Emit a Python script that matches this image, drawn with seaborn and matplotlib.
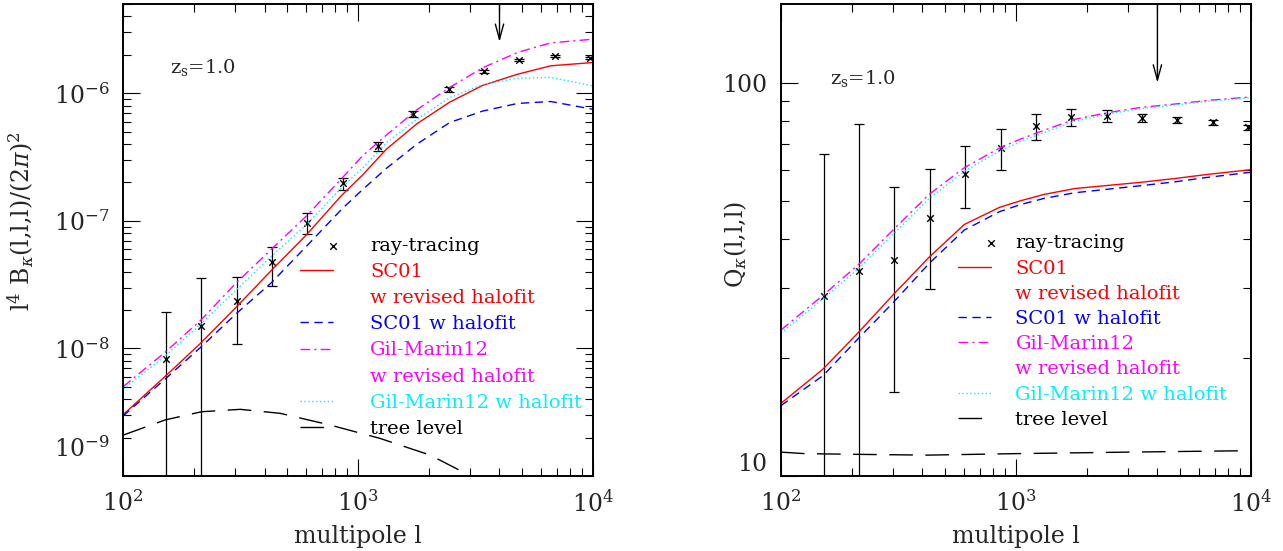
import numpy as np
import pandas as pd
import seaborn as sns
import matplotlib
matplotlib.use('Agg')
import matplotlib.pyplot as plt
from matplotlib.lines import Line2D
from matplotlib.legend_handler import HandlerPathCollection
from matplotlib.ticker import LogLocator, NullFormatter, FixedLocator, FixedFormatter
from matplotlib.transforms import ScaledTranslation

# ---- data ----
# ray-tracing measurements (both panels share multipoles)
ell_pts = [152, 215, 304, 430, 608, 860, 1216, 1720, 2432, 3439, 4864, 6879, 9728]

B_pts = [8.2e-9, 1.49e-8, 2.37e-8, 4.76e-8, 9.63e-8, 1.97e-7, 3.84e-7, 6.84e-7,
         1.07e-6, 1.49e-6, 1.83e-6, 1.95e-6, 1.88e-6]
B_hi = [1.92e-8, 3.54e-8, 3.63e-8, 6.28e-8, 1.16e-7, 2.18e-7, 4.15e-7, 7.2e-7,
        1.11e-6, 1.53e-6, 1.87e-6, 1.99e-6, 1.92e-6]
B_lo = [1e-10, 1e-10, 1.09e-8, 3.1e-8, 7.9e-8, 1.73e-7, 3.55e-7, 6.5e-7,
        1.03e-6, 1.45e-6, 1.79e-6, 1.91e-6, 1.84e-6]

Q_pts = [28.7, 33.3, 35.4, 45.3, 58.6, 68.2, 77.4, 81.8, 82.1, 81.3, 80.5, 79.3, 77.0]
Q_hi = [65.9, 78.7, 54.3, 60.5, 69.2, 76.4, 83.4, 85.9, 85.0, 83.3, 82.0, 80.5, 78.2]
Q_lo = [5.0, 5.0, 16.4, 29.9, 48.0, 60.1, 71.6, 77.8, 79.3, 79.3, 79.0, 78.1, 75.8]

# model curves
ell_curve = [100, 151, 214, 302, 427, 603, 851, 1047, 1318, 1778, 2455, 3388, 4786, 6607, 10000]

B_sc01_rev = [3.02e-9, 6.03e-9, 1.10e-8, 2.09e-8, 4.07e-8, 7.76e-8, 1.58e-7, 2.29e-7,
              3.63e-7, 5.75e-7, 8.51e-7, 1.15e-6, 1.41e-6, 1.64e-6, 1.74e-6]
B_sc01 = [2.95e-9, 5.75e-9, 1.02e-8, 1.86e-8, 3.26e-8, 6.31e-8, 1.23e-7, 1.76e-7,
          2.57e-7, 3.98e-7, 5.89e-7, 7.24e-7, 8.32e-7, 8.61e-7, 7.48e-7]
B_gm12_rev = [5.01e-9, 9.33e-9, 1.66e-8, 3.24e-8, 5.96e-8, 1.09e-7, 2.14e-7, 3.24e-7,
              4.68e-7, 7.41e-7, 1.11e-6, 1.58e-6, 2.09e-6, 2.48e-6, 2.65e-6]
B_gm12 = [4.79e-9, 8.71e-9, 1.55e-8, 2.85e-8, 5.25e-8, 9.33e-8, 1.82e-7, 2.60e-7,
          4.07e-7, 6.24e-7, 9.23e-7, 1.17e-6, 1.31e-6, 1.33e-6, 1.14e-6]
ell_tree_B = [100, 151, 216, 315, 466, 760, 1242, 2023, 2897, 3548, 4500]
B_tree = [2.09e-9, 2.75e-9, 3.19e-9, 3.33e-9, 3.10e-9, 2.51e-9, 1.97e-9, 1.46e-9,
          1.04e-9, 8.3e-10, 6.2e-10]

Q_sc01_rev = [15.3, 18.7, 23.2, 29.0, 36.0, 43.6, 48.2, 50.1, 52.0, 53.8, 54.8, 55.8, 57.1, 58.5, 60.1]
Q_sc01 = [15.1, 18.0, 22.4, 27.7, 34.7, 42.2, 47.0, 49.0, 50.8, 52.5, 53.6, 54.7, 56.0, 57.5, 59.2]
Q_gm12_rev = [23.5, 28.8, 34.5, 42.4, 52.0, 60.8, 68.2, 71.9, 75.7, 80.7, 83.9, 86.5, 88.3, 90.2, 92.0]
Q_gm12 = [23.1, 28.2, 33.7, 41.3, 50.7, 59.5, 67.0, 70.8, 74.7, 79.8, 83.2, 85.9, 87.8, 89.7, 91.6]
ell_tree_Q = [100, 126, 217, 417, 1007, 2951, 10000]
Q_tree = [11.5, 11.4, 11.35, 11.3, 11.4, 11.5, 11.6]

arrow_ell = 4000

labels = ['ray-tracing', 'SC01', 'SC01 w halofit', 'Gil-Marin12',
          'Gil-Marin12 w halofit', 'tree level']
second_line = 'w revised halofit'
colors = ['black', '#ff0000', '#0000ff', '#ff00ff', '#00f0ff', 'black']
styles = ['-', (0, (6, 4)), (0, (7, 3, 1.5, 3)), (0, (1, 1.8)), (0, (17, 9))]

sns.set_style('ticks')
plt.rcParams['font.family'] = ['DejaVu Serif']
plt.rcParams['mathtext.fontset'] = 'dejavuserif'


class RightMarker(HandlerPathCollection):
    # put the single legend marker at the right end of the handle
    def get_xdata(self, legend, xdescent, ydescent, width, height, fontsize):
        return [-xdescent + width], [-xdescent + width]


def style_axes(ax):
    ax.set_xscale('log')
    ax.set_yscale('log')
    ax.tick_params(which='both', direction='in', top=True, right=True,
                   width=0.8, labelsize=17, color='black')
    ax.tick_params(which='major', length=12, pad=10)
    ax.tick_params(which='minor', length=6)
    for s in ax.spines.values():
        s.set_linewidth(1.4)
        s.set_color('black')
    ax.set_xlim(100, 10000)
    ax.xaxis.set_major_locator(FixedLocator([100, 1000, 10000]))
    ax.xaxis.set_minor_locator(LogLocator(base=10, subs=np.arange(2, 10)))
    ax.xaxis.set_minor_formatter(NullFormatter())
    ax.set_xlabel('multipole l', fontsize=17, labelpad=6)


def draw_panel(ax, pts, lo, hi, curves, tree_l, tree_v):
    style_axes(ax)
    pts = np.array(pts)
    ax.errorbar(ell_pts, pts, yerr=[pts - np.array(lo), np.array(hi) - pts],
                fmt='none', ecolor='black', elinewidth=0.9, capsize=3.5, capthick=0.9)
    sns.scatterplot(x=ell_pts, y=pts, marker='x', s=22, color='black',
                    linewidth=1.0, ax=ax, label=labels[0], legend=False)
    for vals, c, ls, lab in zip(curves, colors[1:5], styles[:4], labels[1:5]):
        df = pd.DataFrame({'ell': ell_curve, 'v': vals})
        sns.lineplot(data=df, x='ell', y='v', color=c, linestyle=ls, linewidth=1.0,
                     ax=ax, label=lab, legend=False)
    dft = pd.DataFrame({'ell': tree_l, 'v': tree_v})
    sns.lineplot(data=dft, x='ell', y='v', color='black', linestyle=styles[4],
                 linewidth=1.0, ax=ax, label=labels[5], legend=False)


fig = plt.figure(figsize=(12.83, 5.51), dpi=100)
axL = fig.add_axes([0.0959, 0.1361, 0.3663, 0.8566])
axR = fig.add_axes([0.6087, 0.1361, 0.3663, 0.8566])

draw_panel(axL, B_pts, B_lo, B_hi, [B_sc01_rev, B_sc01, B_gm12_rev, B_gm12],
           ell_tree_B, B_tree)
axL.set_ylim(1e-9, 5e-6)
axL.yaxis.set_major_locator(FixedLocator([1e-9, 1e-8, 1e-7, 1e-6]))
axL.yaxis.set_minor_locator(LogLocator(base=10, subs=np.arange(2, 10)))
axL.yaxis.set_minor_formatter(NullFormatter())
axL.set_ylabel(r'l$^4$ B$_\kappa$(l,l,l)/(2$\pi$)$^2$', fontsize=17)
axL.yaxis.set_label_coords(-0.185, 0.54)

draw_panel(axR, Q_pts, Q_lo, Q_hi, [Q_sc01_rev, Q_sc01, Q_gm12_rev, Q_gm12],
           ell_tree_Q, Q_tree)
axR.set_ylim(10, 158.5)
axR.yaxis.set_major_locator(FixedLocator([10, 100]))
axR.yaxis.set_major_formatter(FixedFormatter(['10', '100']))
axR.yaxis.set_minor_locator(LogLocator(base=10, subs=np.arange(2, 10)))
axR.yaxis.set_minor_formatter(NullFormatter())
axR.set_ylabel(r'Q$_\kappa$(l,l,l)', fontsize=17)
axR.yaxis.set_label_coords(-0.068, 0.49)

# annotations
axL.text(0.10, 0.866, r'z$_{\rm s}$=1.0', transform=axL.transAxes, fontsize=14, va='center')
axR.text(0.104, 0.843, r'z$_{\rm s}$=1.0', transform=axR.transAxes, fontsize=14, va='center')
for ax, tip in [(axL, 2.52e-6), (axR, 100)]:
    top = ax.get_ylim()[1]
    ax.annotate('', xy=(arrow_ell, tip), xytext=(arrow_ell, top),
                arrowprops=dict(arrowstyle='->,head_length=1.1,head_width=0.3',
                                color='black', lw=1.0, shrinkA=0, shrinkB=0))

# legends: two-line entries get a second row with an empty handle
for ax, anchor, tpad, lab_sp in [(axL, (0.377, 0.507), 1.9, 0.42),
                                 (axR, (0.377, 0.512), 1.25, 0.37)]:
    handles, labs = ax.get_legend_handles_labels()
    blank = Line2D([], [], linestyle='none')
    h_rows = [handles[0], handles[1], blank, handles[2], handles[3], blank, handles[4], handles[5]]
    l_rows = [labs[0], labs[1], second_line, labs[2], labs[3], second_line, labs[4], labs[5]]
    c_rows = [colors[0], colors[1], colors[1], colors[2], colors[3], colors[3], colors[4], colors[5]]
    leg = ax.legend(h_rows, l_rows, loc='upper left', bbox_to_anchor=anchor,
                    frameon=False, fontsize=14, handlelength=1.7, handletextpad=tpad,
                    labelspacing=lab_sp, borderpad=0, borderaxespad=0,
                    handler_map={type(handles[0]): RightMarker()})
    for t, c in zip(leg.get_texts(), c_rows):
        t.set_color(c)

fig.canvas.draw()
for lbl in axL.get_yticklabels():
    if abs(lbl.get_position()[1] - 1e-9) < 1e-12:
        lbl.set_va('bottom')
        lbl.set_transform(lbl.get_transform() + ScaledTranslation(0, 0.14, fig.dpi_scale_trans))
for lbl in axR.get_yticklabels():
    if lbl.get_text() == '10':
        lbl.set_va('bottom')

fig.savefig('out.png', dpi=100)
